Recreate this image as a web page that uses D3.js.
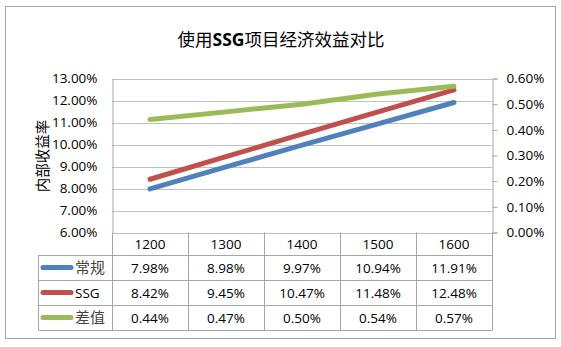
<!DOCTYPE html>
<html><head><meta charset="utf-8">
<script src="https://cdn.jsdelivr.net/npm/d3@7/dist/d3.min.js"></script>
<style>html,body{margin:0;padding:0;background:#fff;}</style>
</head><body>
<script>
const categories = ["1200", "1300", "1400", "1500", "1600"];
const conventional = [7.98, 8.98, 9.97, 10.94, 11.91];
const ssg = [8.42, 9.45, 10.47, 11.48, 12.48];
const diff = [0.44, 0.47, 0.50, 0.54, 0.57];
const seriesNames = ["常规", "SSG", "差值"];
const leftTicks = [6, 7, 8, 9, 10, 11, 12, 13];
const rightTicks = [0, 0.1, 0.2, 0.3, 0.4, 0.5, 0.6];
const titleParts = ["使用", "SSG", "项目经济效益对比"];
const yTitle = "内部收益率";

const W = 561, H = 347;
const colors = ["#4F81BD", "#C0504D", "#9BBB59"];
const numFont = "'Open Sans', 'Liberation Sans', sans-serif";
const cjkFont = "'Noto Sans CJK SC', sans-serif";
const fs = 13.5;

const svg = d3.select("body").append("svg").attr("width", W).attr("height", H);

// outer border
svg.append("rect").attr("x", 5.5).attr("y", 6.5).attr("width", 550).attr("height", 332)
  .attr("fill", "#fff").attr("stroke", "#a6a6a6").attr("stroke-width", 1);

const x = d3.scaleBand().domain(categories).range([112, 492]);
const yL = d3.scaleLinear().domain([6, 13]).range([232.5, 78.5]);
const yR = d3.scaleLinear().domain([0, 0.6]).range([232.5, 78.5]);

// title
const t = svg.append("text").attr("x", 281).attr("y", 46).attr("text-anchor", "middle")
  .attr("font-family", cjkFont).attr("font-size", 17.5).attr("fill", "#000");
t.append("tspan").text(titleParts[0]);
t.append("tspan").attr("font-family", numFont).attr("font-weight", "bold").text(titleParts[1]);
t.append("tspan").text(titleParts[2]);

// gridlines
svg.append("g").selectAll("line").data(leftTicks).join("line")
  .attr("x1", 112).attr("x2", 492)
  .attr("y1", d => Math.round(yL(d)) + 0.5).attr("y2", d => Math.round(yL(d)) + 0.5)
  .attr("stroke", "#bfbfbf").attr("stroke-width", 1);

// left axis
const axL = svg.append("g").attr("transform", "translate(112.5,0)")
  .call(d3.axisLeft(yL).tickValues(leftTicks).tickSize(0).tickPadding(15)
    .tickFormat(d => d.toFixed(2) + "%"));
axL.select(".domain").attr("stroke", "#a6a6a6");
axL.selectAll("text").attr("font-family", numFont).attr("font-size", fs).attr("fill", "#000");

// right axis
const axR = svg.append("g").attr("transform", "translate(492.5,0)")
  .call(d3.axisRight(yR).tickValues(rightTicks).tickSize(5).tickPadding(9)
    .tickFormat(d => d.toFixed(2) + "%"));
axR.select(".domain").attr("stroke", "#a6a6a6");
axR.selectAll("line").attr("stroke", "#a6a6a6");
axR.selectAll("text").attr("font-family", numFont).attr("font-size", fs).attr("fill", "#000");

// y title
svg.append("text").attr("transform", "translate(41,156) rotate(-90)")
  .attr("text-anchor", "middle").attr("dominant-baseline", "central")
  .attr("font-family", cjkFont).attr("font-size", 14.5)
  .attr("fill", "#000").text(yTitle);

// lines
const cx = d => x(d) + x.bandwidth() / 2;
const series = [
  {vals: conventional, y: yL},
  {vals: ssg, y: yL},
  {vals: diff, y: yR}
];
series.forEach((s, i) => {
  const line = d3.line().x((d, j) => cx(categories[j])).y(d => s.y(d));
  svg.append("path").datum(s.vals).attr("d", line)
    .attr("fill", "none").attr("stroke", colors[i]).attr("stroke-width", 5)
    .attr("stroke-linecap", "round");
});

// data table
const rowTop = 232.5, headH = 22.5, rowH = 25;
const rowsY = [rowTop + headH, rowTop + headH + rowH, rowTop + headH + 2 * rowH, rowTop + headH + 3 * rowH];
const tbl = svg.append("g");
const bounds = [112, ...categories.map(c => x(c) + x.bandwidth())];
tbl.selectAll("line.v").data(bounds).join("line")
  .attr("x1", d => Math.round(d) + 0.5).attr("x2", d => Math.round(d) + 0.5)
  .attr("y1", rowTop).attr("y2", rowsY[3]).attr("stroke", "#a6a6a6");
tbl.append("line").attr("x1", 38.5).attr("x2", 38.5).attr("y1", rowsY[0]).attr("y2", rowsY[3]).attr("stroke", "#a6a6a6");
tbl.selectAll("line.h").data(rowsY).join("line")
  .attr("x1", 38.5).attr("x2", 492.5).attr("y1", d => Math.round(d) + 0.5).attr("y2", d => Math.round(d) + 0.5)
  .attr("stroke", "#a6a6a6");

// header
tbl.selectAll("text.hd").data(categories).join("text")
  .attr("x", d => cx(d)).attr("y", rowTop + headH / 2 + 5).attr("text-anchor", "middle")
  .attr("font-family", numFont).attr("font-size", fs).attr("fill", "#000").text(d => d);

series.forEach((s, i) => {
  const yc = rowsY[i] + rowH / 2;
  tbl.append("line").attr("x1", 43).attr("x2", 71).attr("y1", yc).attr("y2", yc)
    .attr("stroke", colors[i]).attr("stroke-width", 5).attr("stroke-linecap", "round");
  tbl.append("text").attr("x", 75).attr("y", yc + 5)
    .attr("font-family", i === 1 ? numFont : cjkFont).attr("font-size", i === 1 ? fs : 15)
    .attr("fill", i === 1 ? "#000" : "#444").text(seriesNames[i]);
  tbl.selectAll("text.v" + i).data(s.vals).join("text")
    .attr("x", (d, j) => cx(categories[j])).attr("y", yc + 5).attr("text-anchor", "middle")
    .attr("font-family", numFont).attr("font-size", fs).attr("fill", "#000")
    .text(d => d.toFixed(2) + "%");
});
</script>
</body></html>
